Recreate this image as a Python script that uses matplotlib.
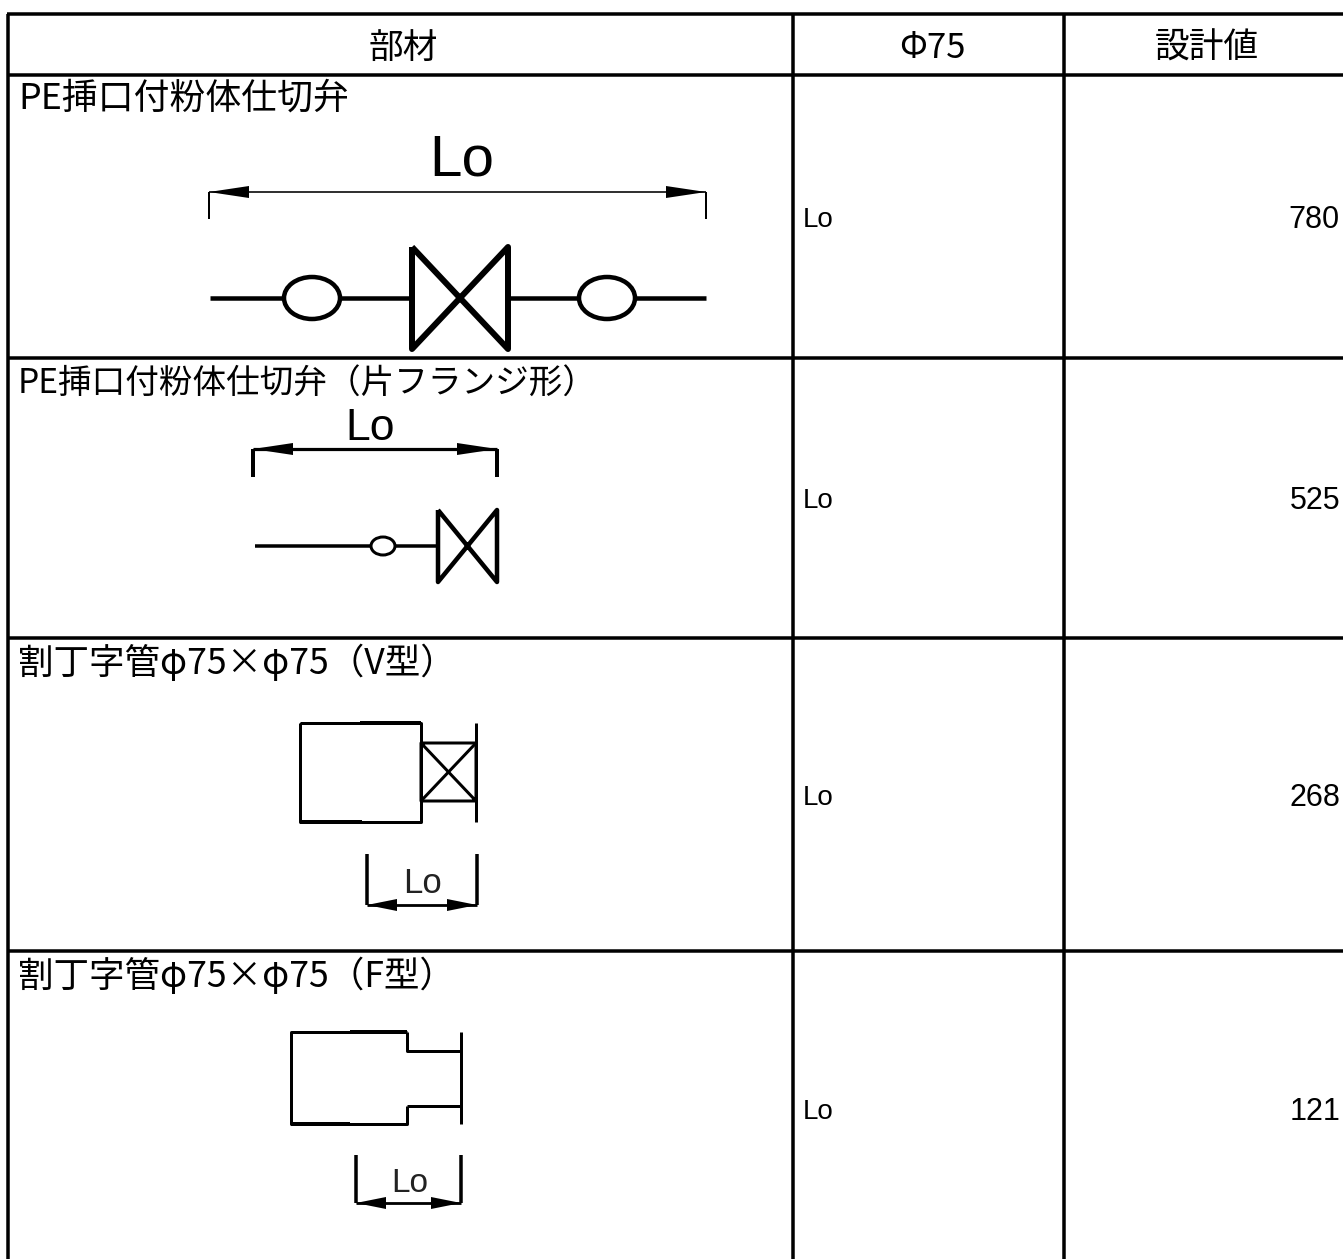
#!/usr/bin/env python3

import matplotlib
matplotlib.use("Agg")
import matplotlib.pyplot as plt

plt.rcParams["font.family"] = ["Noto Sans CJK JP", "DejaVu Sans"]

headers = ["部材", "Φ75", "設計値"]
members = ["PE挿口付粉体仕切弁", "PE挿口付粉体仕切弁（片フランジ形）", "割丁字管φ75×φ75（V型）", "割丁字管φ75×φ75（F型）"]
dim_name = "Lo"
design_values = [780, 525, 268, 121]

col_edges = [8, 793, 1064]
row_edges = [14, 75, 358, 638, 951]
header_x = [403, 932, 1207]
header_y = 48
member_y = [99, 383, 663, 976]
member_size = [25.8, 24.2, 25.6, 25.6]
value_y = [220, 501, 798, 1112]

fig = plt.figure(figsize=(13.43, 12.59), dpi=100)
ax = fig.add_axes([0, 0, 1, 1])
ax.set_xlim(0, 1343)
ax.set_ylim(1259, 0)
ax.axis("off")

def line(xs, ys, w=3.0):
    ax.plot(xs, ys, color="black", lw=w*0.72, solid_capstyle="butt", solid_joinstyle="round")

def arrow(tip, base, y, half=6):
    ax.fill([tip, base, base], [y, y-half, y+half], color="black", lw=0)

def dim_line(x0, x1, y, y_end, alen, w):
    line([x0, x0], [y, y_end], w)
    line([x1, x1], [y, y_end], w)
    line([x0, x1], [y, y], w*0.8)
    arrow(x0, x0+alen, y)
    arrow(x1, x1-alen, y)

def valve(x0, x1, y0, y1, w):
    line([x0, x0, x1, x1, x0], [y0, y1, y0, y1, y0], w)

def socket(cx, cy, rx, ry, w):
    ax.add_patch(matplotlib.patches.Ellipse((cx, cy), 2*rx, 2*ry, fc="white", ec="black", lw=w*0.72, zorder=3))

# table grid
for y in row_edges:
    line([col_edges[0]-1, 1343], [y, y], 3.5)
for x in col_edges:
    line([x, x], [row_edges[0], 1259], 3.5)

# text
for x, t in zip(header_x, headers):
    ax.text(x, header_y, t, ha="center", va="center", fontsize=25)
for y, t, s in zip(member_y, members, member_size):
    ax.text(18, y, t, ha="left", va="center", fontsize=s)
for y, v in zip(value_y, design_values):
    ax.text(803, y, dim_name, ha="left", va="center", fontsize=20, family=["Liberation Sans"])
    ax.text(1340, y, str(v), ha="right", va="center", fontsize=22, family=["Liberation Sans"])

# member 1
line([210, 412], [298, 298], 4.5)
line([508, 706], [298, 298], 4.5)
valve(412, 508, 247, 349, 6)
socket(312, 298, 28, 21, 4.5)
socket(607, 298, 28, 21, 4.5)
dim_line(209, 706, 192, 219, 40, 2)
ax.text(462, 160, dim_name, ha="center", va="center", fontsize=42, family=["Liberation Sans"])

# member 2
line([255, 437], [546, 546], 3.5)
valve(438, 497, 510, 582, 4.5)
socket(383, 546, 12, 9, 3)
dim_line(253, 497, 449, 477, 40, 4)
ax.text(370, 428, dim_name, ha="center", va="center", fontsize=32, family=["Liberation Sans"])

# member 3
line([300, 300, 421, 421, 300], [723, 822, 822, 723, 723], 3)
line([360, 421], [723, 723], 4)
line([300, 362], [822, 822], 4)
line([421, 476, 476, 421, 421, 476], [743, 743, 801, 801, 743, 801], 3)
line([421, 476], [801, 743], 3)
line([476, 476], [723, 822], 3)
dim_line(367, 477, 905, 854, 30, 3.5)
ax.text(423, 883, dim_name, ha="center", va="center", fontsize=25, color="#222222", family=["Liberation Sans"])

# member 4
line([407, 291, 291, 407, 407], [1032, 1032, 1124, 1124, 1106], 3)
line([350, 407], [1032, 1032], 4)
line([291, 350], [1124, 1124], 4)
line([407, 407, 461], [1032, 1051, 1051], 3)
line([407, 461], [1106, 1106], 3)
line([461, 461], [1032, 1124], 3)
dim_line(356, 461, 1203, 1155, 30, 3.5)
ax.text(410, 1184, dim_name, ha="center", va="center", fontsize=24, color="#222222", family=["Liberation Sans"])

fig.savefig("out.png", dpi=100, facecolor="white")
